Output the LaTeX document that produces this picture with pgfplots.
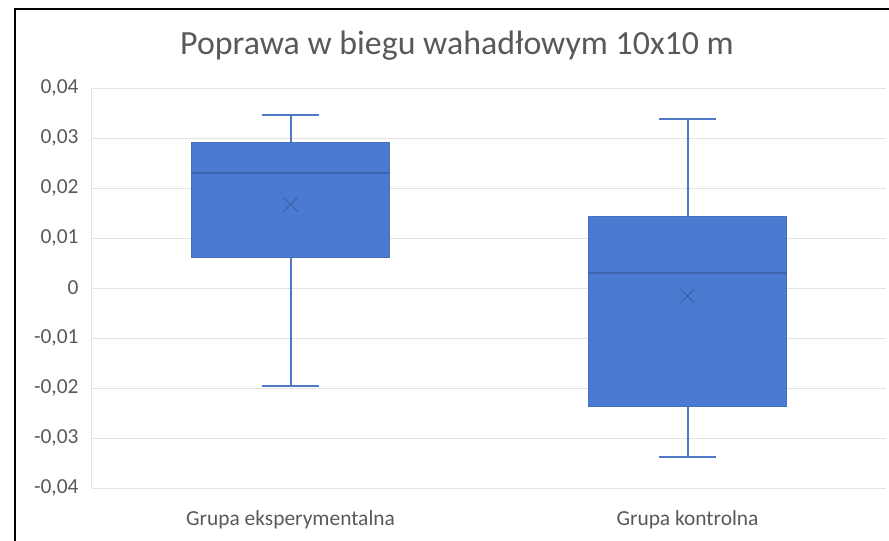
\documentclass[border=0pt]{standalone}
\usepackage{pgfplots}
\pgfplotsset{compat=1.18}
\usepgfplotslibrary{statistics}
\usepackage{fontspec}
\setmainfont{Carlito}
\definecolor{boxfill}{HTML}{4A7BD0}
\definecolor{boxedge}{HTML}{4470C0}
\definecolor{boxdark}{HTML}{3D65AE}
\definecolor{whisk}{HTML}{4F79C6}
\definecolor{gridc}{HTML}{E3E3E3}
\definecolor{txt}{HTML}{595959}
\begin{document}
\begin{tikzpicture}
\begin{axis}[
  scale only axis, width=794bp, height=400bp,
  xmin=0, xmax=2, ymin=-0.04, ymax=0.04,
  scaled y ticks=false,
  ytick={-0.04,-0.03,-0.02,-0.01,0,0.01,0.02,0.03,0.04},
  yticklabels={{-0,04},{-0,03},{-0,02},{-0,01},{0},{0,01},{0,02},{0,03},{0,04}},
  xtick={0.5,1.5},
  xticklabels={Grupa eksperymentalna, Grupa kontrolna},
  major tick length=0,
  ymajorgrids, grid style={gridc, line width=1bp},
  axis x line*=bottom, axis y line*=left,
  axis line style={gridc, line width=1bp, -},
  tick label style={font=\fontsize{21.5}{24}\selectfont, color=txt},
  yticklabel style={xshift=-10bp},
  xticklabel style={yshift=-19bp},
  boxplot/draw direction=y,
  clip=false,
]
\addplot[boxplot prepared={draw position=0.5, lower whisker=-0.0196, lower quartile=0.0061, median=0.0231, upper quartile=0.0292, upper whisker=0.0347, box extend=0.5, whisker extend=0.146,
  every box/.style={draw=boxedge, fill=boxfill, line width=1bp},
  every whisker/.style={draw=whisk, line width=2bp},
  every median/.style={draw=boxdark, line width=2bp}}, solid] coordinates {};
\addplot[boxplot prepared={draw position=1.5, lower whisker=-0.0337, lower quartile=-0.0237, median=0.0031, upper quartile=0.0143, upper whisker=0.0339, box extend=0.5, whisker extend=0.146,
  every box/.style={draw=boxedge, fill=boxfill, line width=1bp},
  every whisker/.style={draw=whisk, line width=2bp},
  every median/.style={draw=boxdark, line width=2bp}}, solid] coordinates {};
\addplot[only marks, mark=x, mark size=10bp, mark options={draw=boxdark, line width=1.2bp}] coordinates {(0.5,0.0167) (1.5,-0.0016)};
\end{axis}
\node[font=\fontsize{34}{40}\selectfont, text=txt] at (365bp,442bp) {Poprawa w biegu wahadłowym 10x10 m};
\draw[line width=1.5bp, black] (-77bp,-53bp) -- (-77bp,479bp) -- (797bp,479bp);
\pgfresetboundingbox
\useasboundingbox (-92bp,-53bp) rectangle (797bp,488bp);
\end{tikzpicture}
\end{document}
